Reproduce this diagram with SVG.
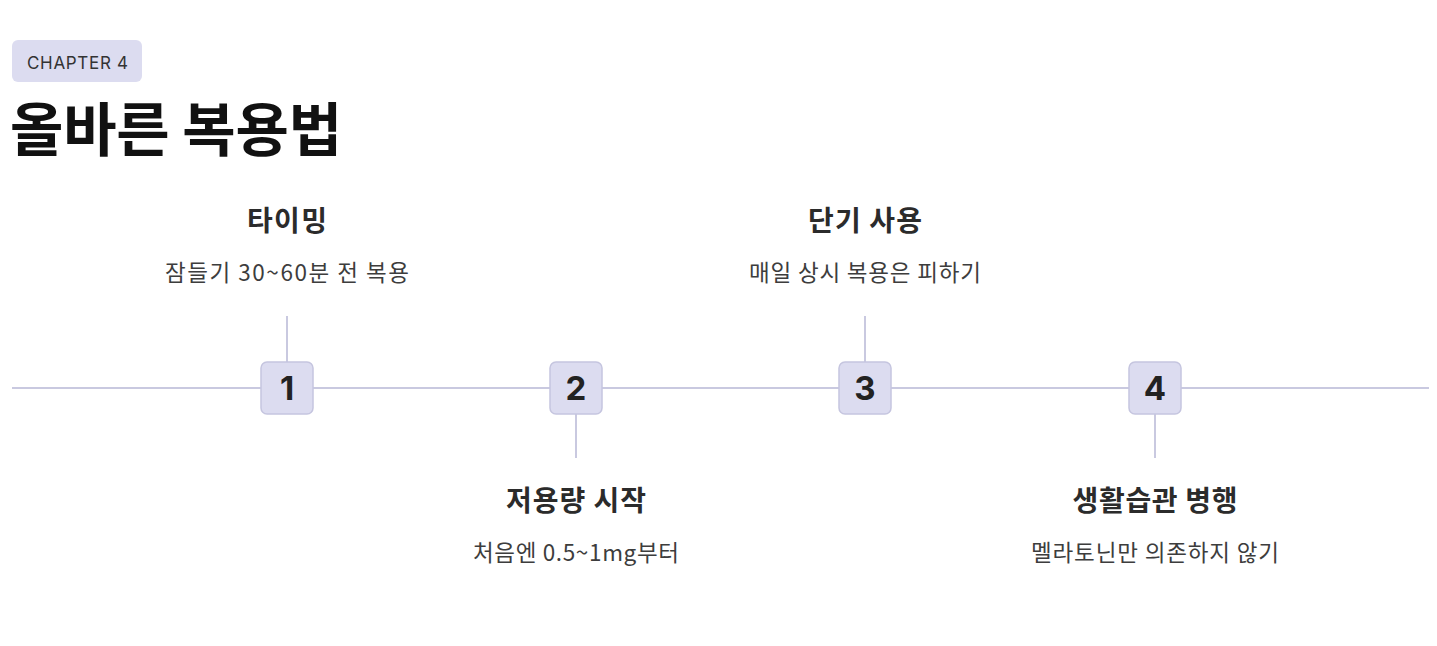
<svg xmlns="http://www.w3.org/2000/svg" width="1437" height="646" viewBox="0 0 1437 646">
<style>
.f{font-family:"Inter","Noto Sans CJK KR",sans-serif}
.k{font-family:"Noto Sans CJK KR","Noto Sans",sans-serif}
.line{stroke:#c9c9e0;stroke-width:2;fill:none}
.box{fill:#dcdcf0;stroke:#c5c5df;stroke-width:1.5}
.num{font-family:"Inter","Noto Sans",sans-serif;font-size:33px;font-weight:700;fill:#222;text-anchor:middle}
.h{font-family:"Noto Sans CJK KR",sans-serif;font-size:28px;font-weight:700;fill:#2b2b2b;text-anchor:middle}
.s{font-family:"Noto Sans CJK KR",sans-serif;font-size:22.5px;fill:#3d3d3d;text-anchor:middle}
</style>
<rect width="1437" height="646" fill="#ffffff"/>
<g id="header">
<rect x="12" y="40" width="130" height="42" rx="6" fill="#dcdcf0"/>
<text x="77.5" y="69" class="f" font-size="17" fill="#333" text-anchor="middle" textLength="101" lengthAdjust="spacing">CHAPTER 4</text>
<text x="10" y="151" class="k" font-size="58" font-weight="700" fill="#111" textLength="332" lengthAdjust="spacing">올바른 복용법</text>
</g>
<g id="connectors">
<line class="line" x1="12" y1="388" x2="1429" y2="388"/>
<line class="line" x1="287" y1="316" x2="287" y2="362"/>
<line class="line" x1="576" y1="414" x2="576" y2="458"/>
<line class="line" x1="865" y1="316" x2="865" y2="362"/>
<line class="line" x1="1155" y1="414" x2="1155" y2="458"/>
</g>
<g id="step1">
<rect class="box" x="261" y="362" width="52" height="52" rx="6"/>
<text class="num" x="287" y="400">1</text>
<text class="h" x="287" y="231" textLength="80" lengthAdjust="spacing">타이밍</text>
<text class="s" x="287" y="281" textLength="244" lengthAdjust="spacing">잠들기 30~60분 전 복용</text>
</g>
<g id="step2">
<rect class="box" x="550" y="362" width="52" height="52" rx="6"/>
<text class="num" x="576" y="400">2</text>
<text class="h" x="576" y="511" textLength="140" lengthAdjust="spacing">저용량 시작</text>
<text class="s" x="576" y="561" textLength="206" lengthAdjust="spacing">처음엔 0.5~1mg부터</text>
</g>
<g id="step3">
<rect class="box" x="839" y="362" width="52" height="52" rx="6"/>
<text class="num" x="865" y="400">3</text>
<text class="h" x="865" y="231" textLength="114" lengthAdjust="spacing">단기 사용</text>
<text class="s" x="865" y="281" textLength="232" lengthAdjust="spacing">매일 상시 복용은 피하기</text>
</g>
<g id="step4">
<rect class="box" x="1129" y="362" width="52" height="52" rx="6"/>
<text class="num" x="1155" y="400">4</text>
<text class="h" x="1155" y="511" textLength="165" lengthAdjust="spacing">생활습관 병행</text>
<text class="s" x="1155" y="561" textLength="248" lengthAdjust="spacing">멜라토닌만 의존하지 않기</text>
</g>
</svg>
